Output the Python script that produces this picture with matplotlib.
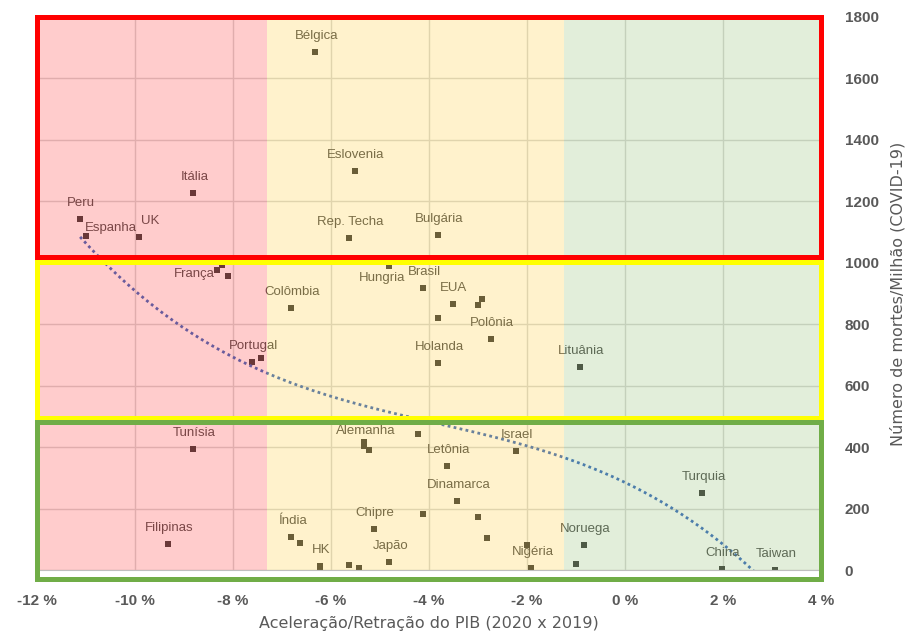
import numpy as np
import matplotlib
matplotlib.use('Agg')
import matplotlib.pyplot as plt
from matplotlib.patches import Rectangle


# country data: GDP change 2020 vs 2019 (%) and COVID-19 deaths per million
names = ['Bélgica', 'Itália', 'Peru', 'Espanha', 'UK', 'Eslovenia', 'Rep. Techa',
         'Bulgária', 'França', '', '', 'Colômbia', 'Portugal', '', 'Hungria',
         'Brasil', 'EUA', '', '', '', 'Polônia', 'Holanda', 'Lituânia', 'Tunísia',
         'Filipinas', 'Índia', '', 'HK', '', '', 'Alemanha', '', '', 'Israel',
         'Letônia', 'Dinamarca', '', '', 'Chipre', '', '', 'Nigéria', 'Japão',
         '', '', 'Noruega', '', 'Turquia', 'China', 'Taiwan']
gdp = [-6.32, -8.81, -11.12, -11.01, -9.91, -5.52, -5.63,
       -3.81, -8.32, -8.22, -8.11, -6.81, -7.61, -7.42, -4.81,
       -4.12, -3.52, -3.01, -2.91, -3.81, -2.73, -3.81, -0.91, -8.81,
       -9.32, -6.81, -6.63, -6.22, -6.22, -5.32, -5.32, -5.22, -4.22, -2.22,
       -3.63, -3.42, -3.01, -4.12, -5.12, -2.81, -2.01, -1.91, -4.81,
       -5.63, -5.42, -0.83, -1.01, 1.58, 1.97, 3.07]
deaths = [1685, 1227, 1143, 1087, 1084, 1298, 1081,
          1091, 977, 991, 955, 851, 678, 691, 988,
          918, 866, 863, 883, 821, 753, 675, 662, 395,
          83, 109, 87, 13, 1, 417, 404, 392, 441, 386,
          337, 224, 174, 181, 135, 103, 80, 5, 25,
          15, 5, 80, 18, 249, 2, 0]

# background zones (GDP ranges) and framing boxes (death ranges)
zone_edges = [-12, -7.3, -1.25, 4]
zone_colors = ['#FF0000', '#FFC000', '#70AD47']
box_ranges = [(1018, 1800), (495, 1002), (-28, 481)]
box_colors = ['#FF0000', '#FFFF00', '#70AD47']

xticks = [-12, -10, -8, -6, -4, -2, 0, 2, 4]
xtick_labels = ['-12 %', '-10 %', '-8 %', '-6 %', '-4 %', '-2 %', '0 %', '2 %', '4 %']
yticks = [0, 200, 400, 600, 800, 1000, 1200, 1400, 1600, 1800]

# labels that are not simply centred above their point (offset in pixels)
label_offsets = {'Espanha': (-1, 8, 'left'), 'França': (-3, -4, 'right'),
                 'Hungria': (-7, -12, 'center'), 'Alemanha': (1, 15, 'center'),
                 'UK': (11, 16, 'center')}

text_col = '#595959'

fig = plt.figure(figsize=(9.21, 6.43), dpi=100)
ax = fig.add_axes([37 / 921, 1 - 570 / 643, 784 / 921, 553.2 / 643])

ax.scatter(gdp, deaths, s=16, marker='s', color='#464646', linewidths=0, zorder=3)

for n, x, y in zip(names, gdp, deaths):
    if not n:
        continue
    dx, dy, ha = label_offsets.get(n, (1, 16, 'center'))
    ax.annotate(n, (x, y), xytext=(dx, dy), textcoords='offset pixels',
                ha=ha, va='center', fontsize=9.5, color=text_col,
                family='Liberation Sans', zorder=4)

# polynomial trend line (order 3), clipped at 0 like the original
coef = np.polyfit(gdp, deaths, 3)
tx = np.linspace(min(gdp), 4, 300)
ty = np.polyval(coef, tx)
ax.plot(tx, ty, linestyle=(0, (1, 1.2)), color='#4472C4', lw=2, zorder=3)

# transparent zone fills on top of everything
for i in range(3):
    ax.axvspan(zone_edges[i], zone_edges[i + 1], ymin=0, ymax=1,
               color=zone_colors[i], alpha=0.2, lw=0, zorder=5)

for (y0, y1), c in zip(box_ranges, box_colors):
    ax.add_patch(Rectangle((-12, y0), 16, y1 - y0, fill=False, edgecolor=c,
                           lw=3.6, clip_on=False, zorder=8))

ax.set_xlim(-12, 4)
ax.set_ylim(0, 1800)
ax.set_xticks(xticks, xtick_labels)
ax.set_yticks(yticks)
ax.grid(True, color='#d9d9d9', lw=1, zorder=0)
ax.set_axisbelow(True)

ax.yaxis.tick_right()
ax.yaxis.set_label_position('right')
ax.tick_params(length=0)
ax.tick_params(axis='x', pad=17)
ax.tick_params(axis='y', pad=17)
for lab in ax.get_xticklabels() + ax.get_yticklabels():
    lab.set_fontweight('bold')
    lab.set_fontsize(11)
    lab.set_color(text_col)
    lab.set_family('Liberation Sans')

for s in ['top', 'left', 'right']:
    ax.spines[s].set_visible(False)
ax.spines['bottom'].set_color('#bfbfbf')
ax.spines['bottom'].set_zorder(6)

ax.set_xlabel('Aceleração/Retração do PIB (2020 x 2019)', fontsize=11.5,
              color=text_col, labelpad=6)
ax.set_ylabel('Número de mortes/Milhão (COVID-19)', fontsize=11.5,
              color=text_col, labelpad=8)

fig.savefig('out.png', dpi=100)
